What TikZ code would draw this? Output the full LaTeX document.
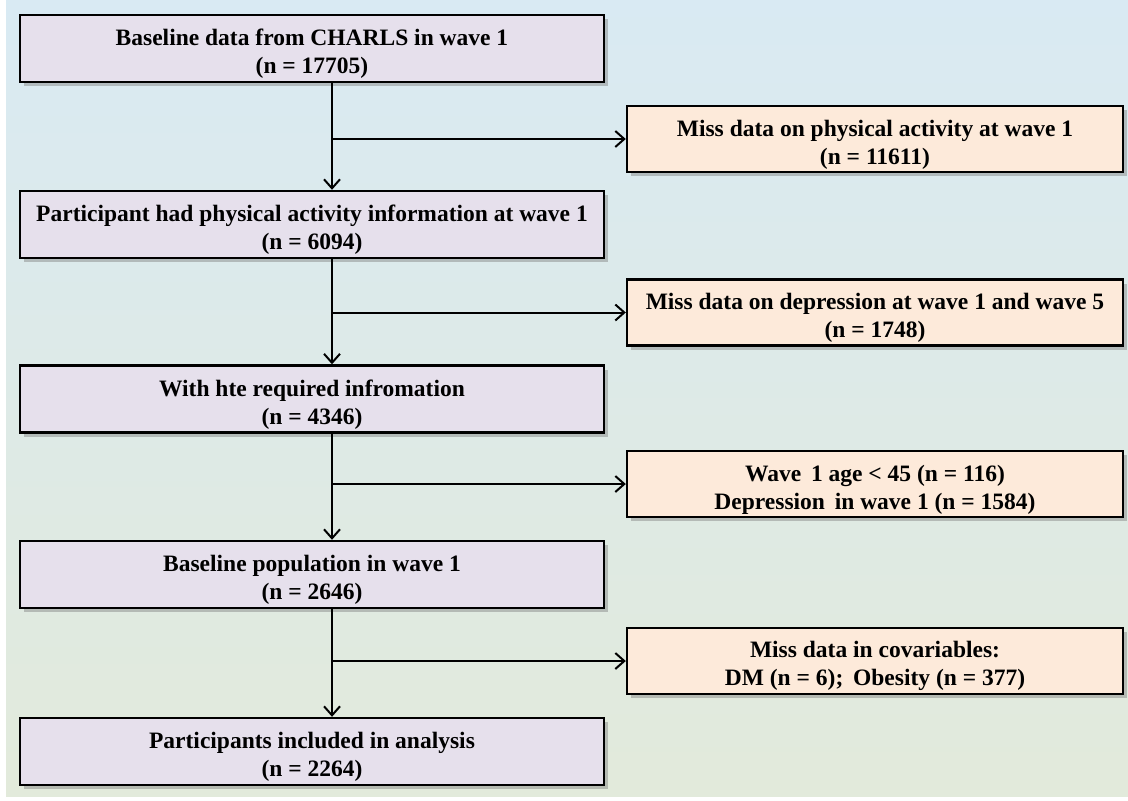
\documentclass[tikz,border=0pt]{standalone}
\usepackage{fontspec}
\setmainfont{Liberation Serif}
\usetikzlibrary{arrows.meta,shadows}
\newcommand{\tstrut}{\rule{0pt}{27pt}}
\begin{document}
\begin{tikzpicture}[x=1pt,y=-1pt,
    stepbox/.style={draw=black, line width=2.4pt, fill=mainfill, minimum width=584pt, minimum height=67pt,
        align=center, font=\fontsize{23.5}{28}\selectfont\bfseries, inner sep=0pt,
        drop shadow={opacity=0.45, shadow xshift=4pt, shadow yshift=-4pt}},
    missbox/.style={stepbox, fill=missfill, minimum width=496pt, minimum height=66pt},
    link/.style={line width=2pt, -{Straight Barb[length=9pt,width=16pt,line width=2pt]}}]
\definecolor{mainfill}{HTML}{E6E0EC}
\definecolor{missfill}{HTML}{FDEADA}
\useasboundingbox (0,0) rectangle (1128,801);
\shade[top color={rgb,255:red,217;green,234;blue,243}, bottom color={rgb,255:red,226;green,234;blue,219}]
    (6,0) rectangle (1128,796);
% main flow
\node[stepbox] (base) at (312,48.5) {\tstrut Baseline\ data\ from\ CHARLS\ in\ wave\ 1\\(n = 17705)};
\node[stepbox] (phys) at (312,224.5) {\tstrut Participant had physical activity information at wave 1\\(n = 6094)};
\node[stepbox] (info) at (312,399) {\tstrut With hte required infromation\\(n = 4346)};
\node[stepbox] (pop) at (312,574.5) {\tstrut Baseline population in wave 1\\(n = 2646)};
\node[stepbox] (final) at (312,751.5) {\tstrut Participants included in analysis\\(n = 2264)};
% exclusions
\node[missbox] (miss1) at (875,139) {\tstrut Miss data on physical activity at wave 1\\(n = 11611)};
\node[missbox] (miss2) at (875,312.5) {\tstrut Miss data on depression at wave 1 and wave 5\\(n = 1748)};
\node[missbox] (miss3) at (875,484) {\tstrut Wave\,\ 1 age < 45 (n = 116)\\Depression\,\ in wave 1 (n = 1584)};
\node[missbox] (miss4) at (875,661) {\tstrut Miss data in covariables:\\DM (n = 6);\,\ Obesity (n = 377)};
% connectors
\coordinate (b1) at (332,0 |- base.south);
\coordinate (b2) at (332,0 |- phys.south);
\coordinate (b3) at (332,0 |- info.south);
\coordinate (b4) at (332,0 |- pop.south);
\draw[link] (b1) -- (b1 |- phys.north);
\draw[link] (b2) -- (b2 |- info.north);
\draw[link] (b3) -- (b3 |- pop.north);
\draw[link] (b4) -- (b4 |- final.north);
\draw[link] (b1 |- miss1.west) -- (miss1.west);
\draw[link] (b2 |- miss2.west) -- (miss2.west);
\draw[link] (b3 |- miss3.west) -- (miss3.west);
\draw[link] (b4 |- miss4.west) -- (miss4.west);
\end{tikzpicture}
\end{document}
